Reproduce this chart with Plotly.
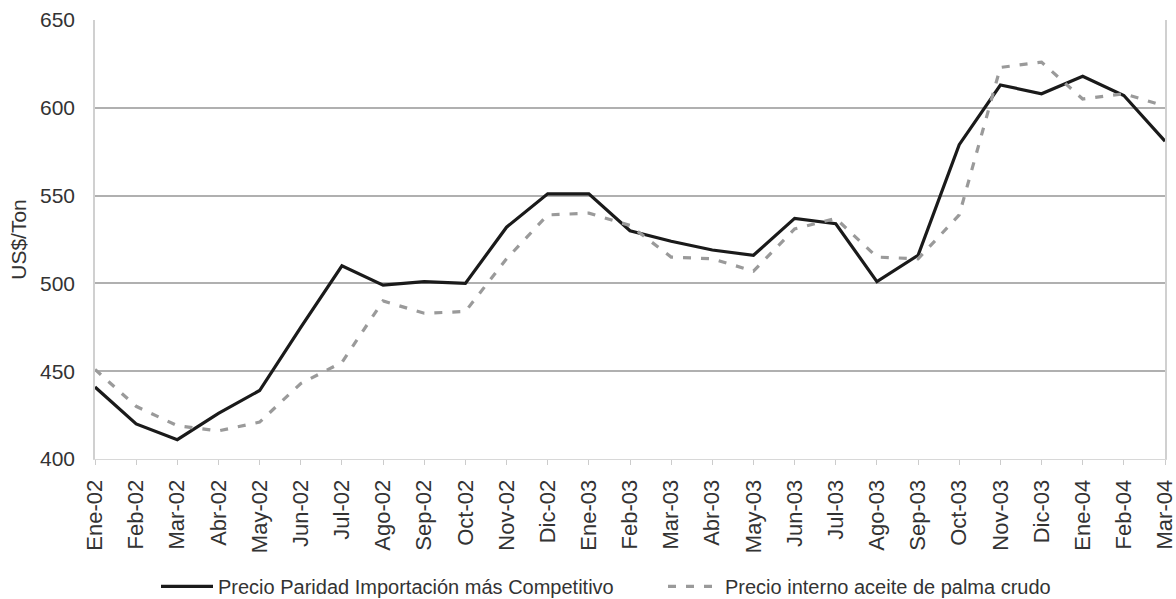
import plotly.graph_objects as go

months = ["Ene-02", "Feb-02", "Mar-02", "Abr-02", "May-02", "Jun-02", "Jul-02", "Ago-02",
          "Sep-02", "Oct-02", "Nov-02", "Dic-02", "Ene-03", "Feb-03", "Mar-03", "Abr-03",
          "May-03", "Jun-03", "Jul-03", "Ago-03", "Sep-03", "Oct-03", "Nov-03", "Dic-03",
          "Ene-04", "Feb-04", "Mar-04"]

paridad = [441, 420, 411, 426, 439, 475, 510, 499, 501, 500, 532, 551, 551, 530, 524, 519,
           516, 537, 534, 501, 516, 579, 613, 608, 618, 607, 581]

interno = [451, 430, 419, 416, 421, 443, 455, 490, 483, 484, 514, 539, 540, 533, 515, 514,
           507, 531, 537, 515, 514, 539, 623, 626, 605, 608, 601]

y_ticks = [400, 450, 500, 550, 600, 650]

name1 = "Precio Paridad Importación más Competitivo"
name2 = "Precio interno aceite de palma crudo"

fig = go.Figure()
fig.add_trace(go.Scatter(x=months, y=paridad, mode="lines", name=name1,
                         line=dict(color="#1a1a1a", width=3.2)))
fig.add_trace(go.Scatter(x=months, y=interno, mode="lines", name=name2,
                         line=dict(color="#9a9a9a", width=3.2, dash="8px,10px")))

font_family = "Liberation Sans, Arial, sans-serif"
fig.update_layout(
    width=1176, height=599,
    margin=dict(l=95, r=11, t=20, b=140, autoexpand=False),
    paper_bgcolor="white", plot_bgcolor="white",
    font=dict(family=font_family, size=20, color="#333333"),
    showlegend=True,
    legend=dict(orientation="h", x=(156 - 95) / 1070, xanchor="left", y=-0.29, yanchor="middle",
                font=dict(size=20, color="#333333"), itemwidth=52,
                entrywidth=440, entrywidthmode="pixels",
                bgcolor="rgba(0,0,0,0)"),
    xaxis=dict(type="category", range=[0, 26], tickangle=-90,
               showgrid=False, showline=True, linecolor="#d8d8d8", linewidth=1,
               ticks="outside", ticklen=5, tickcolor="#cccccc",
               ticklabelstandoff=6,
               tickfont=dict(size=22, color="#333333")),
    yaxis=dict(range=[400, 650], tickvals=y_ticks,
               showgrid=True, gridcolor="#b0b0b0", gridwidth=1.5,
               showline=True, mirror=True, linecolor="#d0d0d0", linewidth=1.5,
               zeroline=False, ticks="", ticklabelstandoff=14,
               tickfont=dict(size=21, color="#333333"),
               title=dict(text="US$/Ton", font=dict(size=21, color="#333333"), standoff=8)),
)

fig.write_html("out.html", config={"displayModeBar": False},
               post_script="document.body.style.margin='0';document.body.style.padding='0';")
